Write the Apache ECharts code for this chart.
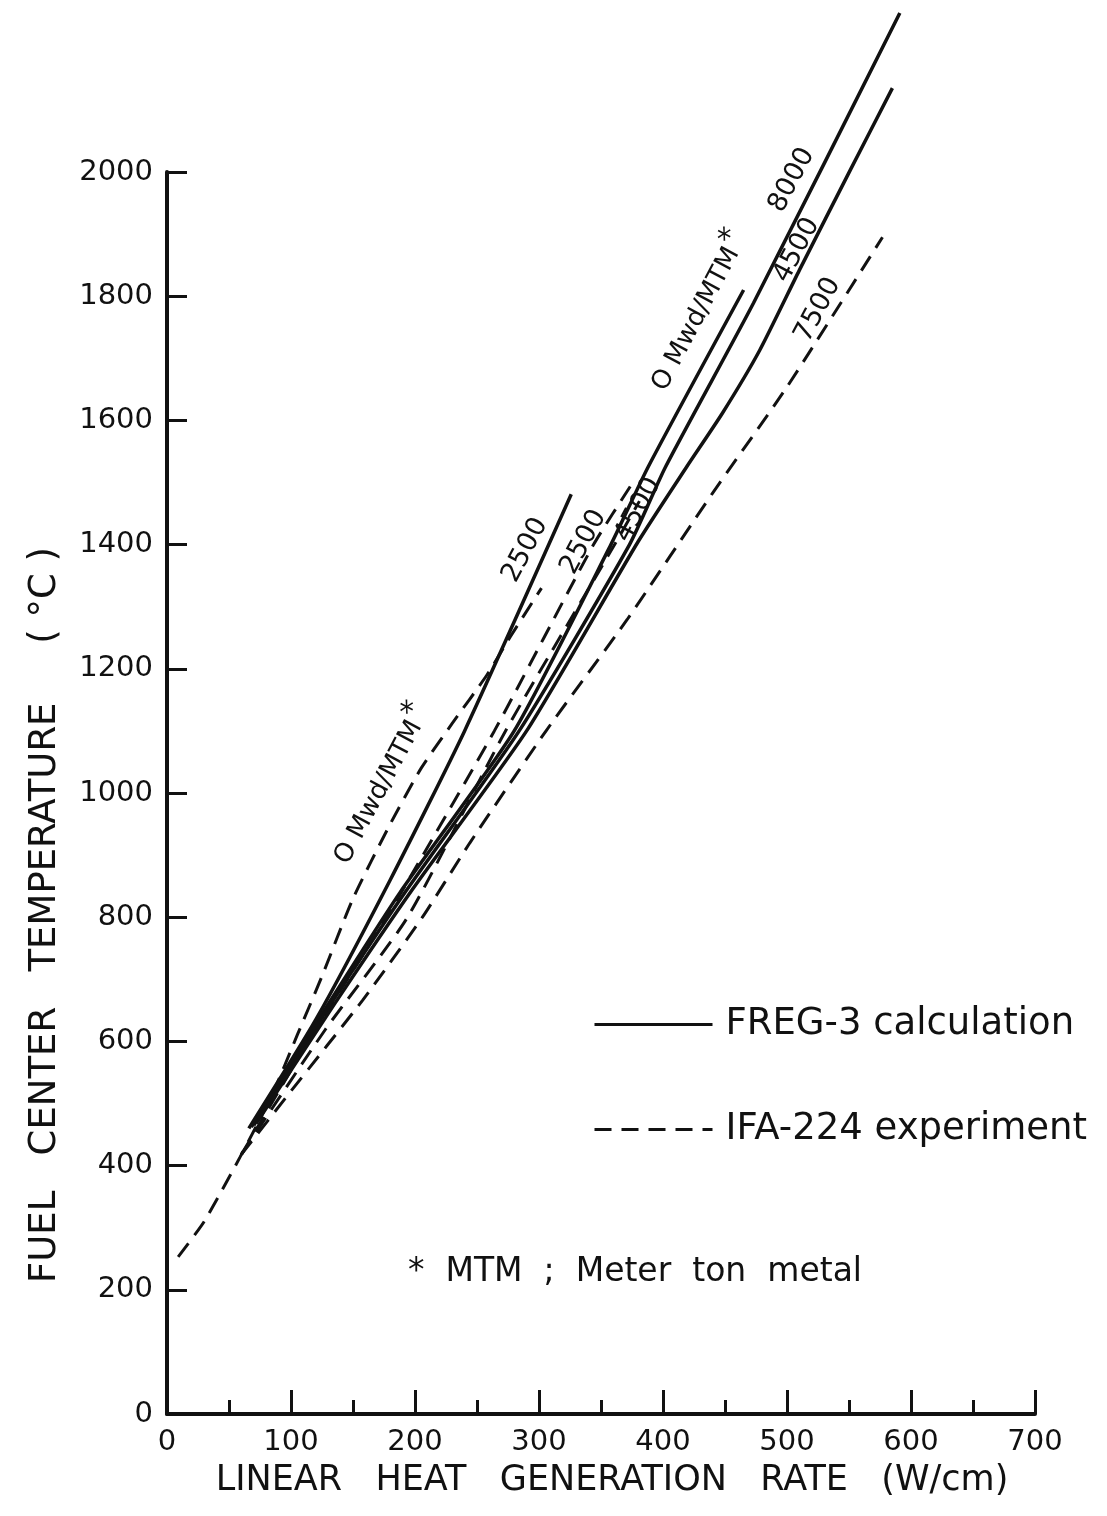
<!DOCTYPE html>
<html>
<head>
<meta charset="utf-8">
<title>Fuel center temperature</title>
<script src="https://cdn.jsdelivr.net/npm/echarts@6/dist/echarts.min.js"></script>
<style>
html, body { margin: 0; padding: 0; background: #fff; }
#chart { width: 1107px; height: 1516px; }
</style>
</head>
<body>
<div id="chart"></div>
<script>
// axis ticks
var xTicks = [0, 100, 200, 300, 400, 500, 600, 700];
var yTicks = [0, 200, 400, 600, 800, 1000, 1200, 1400, 1600, 1800, 2000];

// FREG-3 calculation (solid), [W/cm, degC]
var calc2500 = [[66,460],[120,635],[180,860],[240,1100],[326,1481]];
var calc0    = [[68,462],[130,660],[188,840],[280,1100],[358,1400],[388,1525],[465,1810]];
var calc8000 = [[70,465],[132,660],[192,840],[284,1100],[373,1400],[402,1525],[473,1789],[591,2256]];
var calc4500 = [[72,468],[135,660],[198,845],[290,1100],[380,1405],[419,1525],[448,1612],[478,1713],[510,1842],[551,2003],[585,2135]];

// IFA-224 experiment (dashed)
var exp0    = [[9,253],[30,310],[59,414],[85,515],[105,610],[125,705],[150,830],[180,950],[205,1040],[230,1112],[258,1190],[277,1252],[302,1330]];
var exp2500 = [[60,418],[120,620],[177,800],[264,1100],[344,1400],[377,1504]];
var exp4500 = [[60,418],[128,620],[194,800],[273,1100],[361,1400],[381,1470]];
var exp7500 = [[60,418],[100,520],[158,667],[206,800],[244,919],[306,1101],[371,1279],[440,1483],[500,1654],[577,1895]];

// burnup labels along the curves
var curveLabels = [
	{ text: 'O Mwd/MTM', star: true, at: [174, 1013] },
	{ text: '2500', at: [289, 1391] },
	{ text: '2500', at: [336, 1404] },
	{ text: '4500', at: [380, 1456] },
	{ text: 'O Mwd/MTM', star: true, at: [430, 1775] },
	{ text: '8000', at: [504, 1987] },
	{ text: '4500', at: [508, 1874] },
	{ text: '7500', at: [525, 1778] }
];

var INK = '#111';
var FONT = 'DejaVu Sans';

function solid(data) {
	return {
		name: 'FREG-3 calculation', type: 'line', data: data,
		symbol: 'none', smooth: 0.2, clip: false,
		itemStyle: { color: INK },
		lineStyle: { color: INK, width: 3.5, type: 'solid' }
	};
}
function dashed(data) {
	return {
		name: 'IFA-224 experiment', type: 'line', data: data,
		symbol: 'none', smooth: 0.2, clip: false,
		itemStyle: { color: INK },
		lineStyle: { color: INK, width: 3, type: [17, 10] }
	};
}

var myChart = echarts.init(document.getElementById('chart'));
var option = {
	animation: false,
	backgroundColor: '#fff',
	grid: { left: 167, right: 72, top: 172, bottom: 102 },
	legend: {
		data: ['FREG-3 calculation', 'IFA-224 experiment'],
		orient: 'vertical', left: 593, top: 1006,
		itemWidth: 118, itemHeight: 22, itemGap: 68, padding: 0,
		itemStyle: { opacity: 0 },
		lineStyle: { width: 3 },
		textStyle: { fontSize: 37, color: INK, fontFamily: FONT, padding: [0, 0, 0, 8] }
	},
	xAxis: {
		type: 'value', min: 0, max: 700, interval: 100,
		axisLine: { lineStyle: { color: INK, width: 4 } },
		axisTick: { inside: true, length: 24, lineStyle: { color: INK, width: 3 } },
		minorTick: { show: true, splitNumber: 2, length: 14, lineStyle: { color: INK, width: 3 } },
		splitLine: { show: false },
		axisLabel: {
			fontSize: 29, margin: 14, color: INK, fontFamily: FONT,
			formatter: function (v) { return xTicks.indexOf(v) >= 0 ? String(v) : ''; }
		}
	},
	yAxis: {
		type: 'value', min: 0, max: 2000, interval: 200,
		axisLine: { lineStyle: { color: INK, width: 4 } },
		axisTick: { inside: true, length: 20, lineStyle: { color: INK, width: 3 } },
		splitLine: { show: false },
		axisLabel: {
			fontSize: 29, margin: 14, color: INK, fontFamily: FONT,
			formatter: function (v) { return yTicks.indexOf(v) >= 0 ? String(v) : ''; }
		}
	},
	series: [
		dashed(exp0), dashed(exp2500), dashed(exp4500), dashed(exp7500),
		solid(calc2500), solid(calc0), solid(calc8000), solid(calc4500)
	]
};
myChart.setOption(option);

// titles, note and the labels on the curves
var graphics = [
	{
		type: 'text', x: 45, y: 915, rotation: Math.PI / 2,
		style: { text: 'FUEL   CENTER   TEMPERATURE     ( °C )', font: '37px "DejaVu Sans"', fill: INK, align: 'center', verticalAlign: 'middle' }
	},
	{
		type: 'text', x: 612, y: 1481,
		style: { text: 'LINEAR   HEAT   GENERATION   RATE   (W/cm)', font: '35px "DejaVu Sans"', fill: INK, align: 'center', verticalAlign: 'middle' }
	},
	{
		type: 'text', x: 408, y: 1272,
		style: { text: '*  MTM  ;  Meter  ton  metal', font: '33px "DejaVu Sans"', fill: INK, align: 'left', verticalAlign: 'middle' }
	}
];
curveLabels.forEach(function (l) {
	var p = myChart.convertToPixel({ gridIndex: 0 }, l.at);
	graphics.push({
		type: 'text', x: p[0], y: p[1], rotation: 62 * Math.PI / 180,
		style: {
			text: l.star ? '{a|' + l.text + '}{s|*}' : l.text,
			font: '27px "DejaVu Sans"', fill: INK, align: 'center', verticalAlign: 'middle',
			rich: {
				a: { fontSize: 26, fontFamily: FONT, color: INK },
				s: { fontSize: 30, fontFamily: FONT, color: INK, padding: [0, 0, 16, 2] }
			}
		}
	});
});
myChart.setOption({ graphic: graphics });
</script>
</body>
</html>
